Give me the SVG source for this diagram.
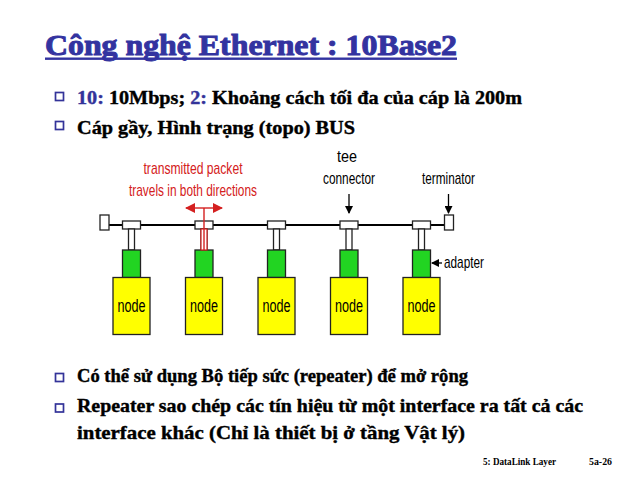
<svg xmlns="http://www.w3.org/2000/svg" width="640" height="480" viewBox="0 0 640 480">
  <style>
    .title { font-size: 30px; fill: #3333a0; stroke: #3333a0; stroke-width: 1; }
    .body { font-size: 19px; fill: #000; stroke: #000; stroke-width: 0.4; }
    .hl { fill: #333399; stroke: #333399; }
    .bullet { fill: none; stroke: #333399; stroke-width: 1.7; }
    .lbl { font-size: 17px; fill: #000; }
    .red { fill: #d42020; }
    .box { stroke: #222; stroke-width: 1.3; }
    .yellow { fill: #ffff00; }
    .green { fill: #22d422; }
    .white { fill: #fff; }
    .wire { stroke: #000; stroke-width: 2; fill: none; }
    .ptr { stroke: #000; stroke-width: 1.3; fill: none; }
    .rline { stroke: #d42020; stroke-width: 1.4; fill: none; }
  </style>
  <defs>
    <marker id="ah" markerWidth="8" markerHeight="8" refX="7" refY="4" orient="auto" markerUnits="userSpaceOnUse">
      <path d="M0,0 L8,4 L0,8 Z" fill="#000"/>
    </marker>
    <marker id="ahRed" markerWidth="10" markerHeight="10" refX="9" refY="5" orient="auto" markerUnits="userSpaceOnUse">
      <path d="M0,0 L10,5 L0,10 Z" fill="#d42020"/>
    </marker>
    <g id="station">
      <!-- tee connector: bar on the bus plus stem to the adapter -->
      <rect x="-9" y="221" width="18" height="8" class="box white"/>
      <rect x="-3" y="229" width="6" height="21" class="box white"/>
      <!-- adapter card -->
      <rect x="-9" y="250" width="18" height="27.5" class="box green"/>
      <!-- host -->
      <rect x="-18.5" y="277.5" width="37" height="57" class="box yellow"/>
      <text x="0" y="312" text-anchor="middle" font-family="'Liberation Sans', Arial, sans-serif" font-size="18" textLength="28" lengthAdjust="spacingAndGlyphs">node</text>
    </g>
  </defs>

  <rect width="640" height="480" fill="#fff"/>

  <!-- heading -->
  <g id="title">
    <text x="45" y="55" font-family="'Liberation Serif', 'Times New Roman', 'DejaVu Serif', serif" font-weight="bold" class="title" textLength="412" lengthAdjust="spacingAndGlyphs">Công nghệ Ethernet : 10Base2</text>
    <rect x="45" y="57.5" width="412" height="2.4" fill="#3333a0"/>
  </g>

  <!-- upper bullet points -->
  <g id="bullets-top" font-family="'Liberation Serif', 'Times New Roman', 'DejaVu Serif', serif" font-weight="bold">
    <rect x="55.5" y="92.5" width="8" height="8" class="bullet"/>
    <text x="77" y="104" class="body" textLength="445" lengthAdjust="spacingAndGlyphs"><tspan class="hl">10:</tspan> 10Mbps; <tspan class="hl">2:</tspan> Khoảng cách tối đa của cáp là 200m</text>
    <rect x="55.5" y="121.5" width="8" height="8" class="bullet"/>
    <text x="77" y="134" class="body" textLength="278" lengthAdjust="spacingAndGlyphs">Cáp gầy, Hình trạng (topo) BUS</text>
  </g>

  <!-- bus cable and pointer arrows -->
  <g id="connectors">
    <line x1="109" y1="225" x2="444" y2="225" class="wire"/>
    <line x1="349" y1="194" x2="349" y2="213" class="ptr" marker-end="url(#ah)"/>
    <line x1="448.5" y1="194" x2="448.5" y2="213" class="ptr" marker-end="url(#ah)"/>
    <line x1="442" y1="263" x2="432" y2="263" class="ptr" marker-end="url(#ah)"/>
    <!-- packet propagating both ways -->
    <line x1="204" y1="208" x2="186" y2="208" class="rline" marker-end="url(#ahRed)"/>
    <line x1="204" y1="208" x2="222" y2="208" class="rline" marker-end="url(#ahRed)"/>
  </g>

  <!-- terminators at both ends of the bus -->
  <g id="terminator-left">
    <rect x="100" y="215" width="9" height="15" class="box white"/>
  </g>
  <g id="terminator-right">
    <rect x="444.5" y="215" width="9" height="15" class="box white"/>
  </g>

  <!-- stations on the bus -->
  <g id="node1"><use href="#station" x="131.5"/></g>
  <g id="node2">
    <use href="#station" x="204"/>
    <rect x="201" y="229" width="6" height="21" fill="#fff" stroke="#d42020" stroke-width="1.2"/>
    <line x1="204" y1="208" x2="204" y2="250" class="rline"/>
  </g>
  <g id="node3"><use href="#station" x="276.5"/></g>
  <g id="node4"><use href="#station" x="349"/></g>
  <g id="node5"><use href="#station" x="421.5"/></g>

  <!-- diagram labels -->
  <g id="labels" font-family="'Liberation Sans', Arial, sans-serif" class="lbl">
    <text x="193" y="174" text-anchor="middle" class="red" textLength="99" lengthAdjust="spacingAndGlyphs">transmitted packet</text>
    <text x="193" y="196" text-anchor="middle" class="red" textLength="128" lengthAdjust="spacingAndGlyphs">travels in both directions</text>
    <text x="347" y="162" text-anchor="middle" textLength="20" lengthAdjust="spacingAndGlyphs">tee</text>
    <text x="349" y="184" text-anchor="middle" textLength="52" lengthAdjust="spacingAndGlyphs">connector</text>
    <text x="448.5" y="184" text-anchor="middle" textLength="53" lengthAdjust="spacingAndGlyphs">terminator</text>
    <text x="444" y="268" textLength="40" lengthAdjust="spacingAndGlyphs">adapter</text>
  </g>

  <!-- lower bullet points -->
  <g id="bullets-bottom" font-family="'Liberation Serif', 'Times New Roman', 'DejaVu Serif', serif" font-weight="bold">
    <rect x="55.5" y="373.5" width="8" height="8" class="bullet"/>
    <text x="77" y="382" class="body" textLength="391" lengthAdjust="spacingAndGlyphs">Có thể sử dụng Bộ tiếp sức (repeater) để mở rộng</text>
    <rect x="55.5" y="404" width="8" height="8" class="bullet"/>
    <text x="77" y="412" class="body" textLength="506" lengthAdjust="spacingAndGlyphs">Repeater sao chép các tín hiệu từ một interface ra tất cả các</text>
    <text x="77" y="439" class="body" textLength="388" lengthAdjust="spacingAndGlyphs">interface khác (Chỉ là thiết bị ở tầng Vật lý)</text>
  </g>

  <!-- footer -->
  <g id="footer" font-family="'Liberation Serif', 'Times New Roman', serif" font-weight="bold" font-size="10.5">
    <text x="483" y="465" textLength="73" lengthAdjust="spacingAndGlyphs">5: DataLink Layer</text>
    <text x="589" y="465" textLength="23" lengthAdjust="spacingAndGlyphs">5a-26</text>
  </g>
</svg>
